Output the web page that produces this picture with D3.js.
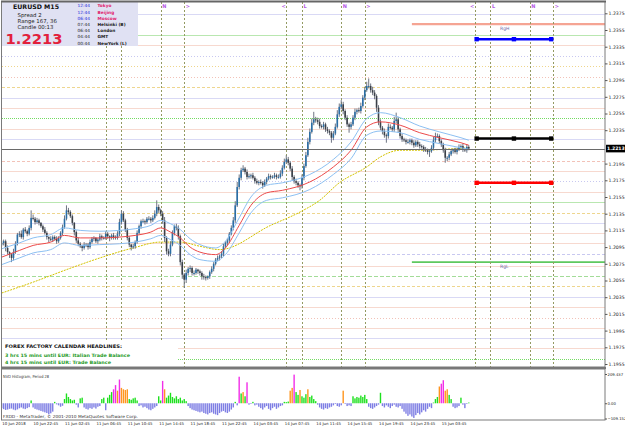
<!DOCTYPE html>
<html>
<head>
<meta charset="utf-8">
<script src="https://cdn.jsdelivr.net/npm/d3@7"></script>
<style>
  body { margin: 0; background: #fff; }
  text { font-family: "DejaVu Sans", sans-serif; }
</style>
</head>
<body>
<div id="chart"></div>
<script>
// ---- data ----
// candle prices are pips above base, open = previous close
const base = 1.2;
const firstOpen = 98;
const closePips = [
  100,102,94,89,86,82,89,99,110,111,107,116,114,111,118,130,129,
  125,127,124,120,116,112,107,105,104,107,105,102,106,112,119,129,
  139,137,132,124,113,103,99,96,94,98,98,95,101,105,106,102,
  104,108,106,106,111,108,106,109,107,106,111,125,135,127,116,106,
  98,95,96,101,112,120,126,126,125,129,129,127,130,135,143,139,
  135,127,106,90,87,98,112,120,118,108,77,62,56,64,69,70,
  64,64,68,66,64,60,59,58,60,65,69,75,80,82,84,87,
  96,100,103,111,118,127,145,167,178,187,189,185,179,180,181,178,
  174,172,173,172,169,173,177,180,179,179,181,179,179,183,190,197,
  200,196,189,179,174,172,169,168,178,192,205,221,233,244,248,247,
  245,240,239,242,236,234,232,226,231,239,254,263,266,258,250,242,
  239,242,250,257,259,258,264,274,283,288,288,283,280,276,262,245,
  238,234,229,228,239,238,236,246,248,236,228,224,223,221,221,223,
  220,217,221,218,216,215,212,211,209,210,214,223,228,228,222,218,
  211,202,202,206,210,211,209,212,215,216,212,211,215,213
];
// wick lengths above / below the body, pips
const upperWick = [
  3,2,2,3,1,2,4,3,2,3,4,2,3,2,3,9,4,
  2,3,2,1,2,3,2,1,3,2,2,3,2,2,3,4,
  6,3,2,2,1,2,3,2,2,3,2,2,3,2,2,1,
  2,3,2,2,3,2,1,2,3,2,3,4,4,3,2,2,
  2,1,3,2,3,2,2,3,2,2,3,2,3,4,8,3,
  2,3,4,2,3,4,3,2,3,3,2,3,2,4,2,3,
  2,3,2,1,2,2,3,2,1,2,3,2,2,3,2,3,
  3,2,3,2,3,4,5,6,4,3,4,2,3,3,2,3,
  2,3,2,3,2,3,2,3,2,2,3,2,3,4,3,4,
  5,3,2,3,2,3,2,2,4,3,4,5,4,5,9,3,
  3,4,2,3,2,3,2,2,3,4,5,4,5,3,2,3,
  2,3,3,4,2,3,4,3,4,5,9,3,4,3,2,3,
  3,2,3,2,4,3,2,5,8,3,2,3,2,2,3,2,
  2,3,2,2,3,2,2,3,2,2,3,4,4,3,2,2,
  2,3,2,3,2,2,3,2,3,2,3,2,3,2
];
const lowerWick = [
  2,3,4,3,4,5,3,2,2,3,2,3,2,3,2,3,2,
  3,2,3,2,3,2,3,4,2,3,2,3,2,2,3,2,
  2,3,2,3,4,3,3,2,4,2,3,3,2,2,3,2,
  3,2,3,2,2,3,4,2,3,2,2,3,3,2,3,3,
  3,4,2,3,2,2,3,2,3,2,2,3,2,2,3,3,
  3,4,5,4,3,3,2,3,3,4,4,5,10,4,3,4,
  3,3,2,3,3,4,3,3,2,3,2,3,2,2,3,2,
  3,2,3,3,2,3,3,2,3,3,2,3,3,2,3,2,
  3,2,3,2,4,2,3,2,3,2,2,3,2,2,3,2,
  2,3,3,4,3,3,3,5,3,3,2,2,3,2,3,3,
  3,3,2,3,3,3,3,6,3,2,2,3,3,4,3,3,
  7,3,2,3,3,2,3,2,3,2,3,3,3,4,5,4,
  3,4,3,8,3,2,3,3,3,4,3,3,2,3,2,3,
  3,3,2,3,3,2,3,2,3,6,2,3,3,2,3,3,
  3,6,4,3,2,3,2,3,2,2,3,2,3,2
];

// moving averages, sampled at bar indices (pips above base)
const maBars  = [0,9,16,25,32,40,50,60,68,76,81,86,91,96,101,109,114,121,127,135,143,157,169,178,186,193,203,213,223,234,238];
const maRed   = [83,91,97,101,109,106,106,107,109,113,118,113,106,95,89,86,94,121,145,160,163,173,191,211,239,245,241,232,226,220,217];
const maBlueU = [93,100,106,110,118,115,114,115,117,121,127,123,116,105,98,94,102,130,155,169,172,182,200,221,249,256,250,240,233,226,223];
const maBlueD = [74,82,88,92,100,97,98,99,101,105,109,104,97,86,80,78,86,112,136,151,154,164,182,201,229,234,232,224,219,214,212];
const slowBars = [0,16,33,50,67,81,91,101,111,137,152,162,172,186,193,203,210,238];
const maSlow   = [40,53,68,82,94,101,101,96,92,121,137,151,172,191,203,211,211,214];

// NVO histogram, one value per bar
const nvo = [
  -35,-42,-48,-45,-40,-38,-45,-50,-44,-36,-30,-38,-42,-35,-28,
  20,
  -30,-40,-45,-50,-55,-60,-65,-70,-80,-72,-60,
  10,
  -8,-15,-25,-18,
  30,70,45,30,20,25,
  -10,-30,
  35,40,
  -30,-40,-45,-35,-40,-30,-38,-25,-20,
  30,40,
  -50,
  40,60,80,
  100,130,90,170,
  110,100,95,100,
  30,25,35,40,20,
  -20,-15,-30,-25,-35,-45,-50,-40,-30,-20,
  50,20,160,100,
  40,55,75,45,35,50,30,40,20,30,15,
  -20,-35,-45,-50,-55,-60,-65,-60,-70,-75,-80,-70,-65,-75,-80,-85,-70,-60,-55,-65,-70,-60,-45,-30,
  10,-15,190,70,80,50,150,
  -10,-5,
  10,
  -15,-10,-25,-35,-45,-30,-20,-40,-50,-35,-25,-40,-30,-20,-15,
  10,8,12,
  90,110,205,80,60,95,50,40,65,100,45,55,30,15,
  -10,-30,-40,-45,-35,-40,-30,-25,-15,
  -5,-20,-25,-15,
  90,
  -5,-20,-15,-20,
  50,35,45,40,55,45,60,30,
  -25,-35,-40,-30,-20,
  -10,
  75,
  -20,-30,-15,-25,-35,-20,-10,-25,-30,-20,
  -40,-60,-75,-90,-80,-95,-105,-85,-70,-80,-65,-50,-60,
  -40,-25,-35,
  5,30,45,120,140,165,90,100,60,30,
  -25,-35,-30,-20,
  40,-10,-35,-5,5
];
const nvoMagenta = [57,58,60,82,121,125,149,224,225];
const nvoOrange  = [59,61,62,63,64,83,123,147,148,152,156,174,223,226,227];
const nvoTicks = [209.437, 0, -109.152];

// price axis and time axis
const priceTicks = d3.range(0, 22).map(k => +(1.1955 + k * 0.002).toFixed(4));
const timeBars = [0,16,32,48,64,80,96,112,128,144,160,176,192,208,224];
const timeLabels = ["10 Jun 2018","10 Jun 22:45","11 Jun 02:45","11 Jun 06:45","11 Jun 10:45",
  "11 Jun 14:45","11 Jun 18:45","11 Jun 22:45","14 Jun 03:45","14 Jun 07:45","14 Jun 11:45",
  "14 Jun 15:45","14 Jun 19:45","14 Jun 23:45","15 Jun 03:45"];
const lastPrice = 1.2213;

// horizontal pivot levels
const levelPrices = [1.2374,1.2349,1.2337,1.2324,1.2312,1.2299,1.2287,1.2274,1.2262,1.2250,1.2236,1.2224,
  1.2198,1.2186,1.2174,1.2161,1.2149,1.2136,1.2124,1.2112,1.2100,1.2087,1.2072,1.2060,1.2048,1.2035,
  1.2023,1.2010,1.1998,1.1986,1.1974,1.1961];
const levelKinds = ["lav","green","pink","lavDot","yelDot","pinkDot","yelDash","lav","pink","greenDot","pink","lav",
  "pinkDash","pink","lavDot","pink","green","yelDash","lav","pink","pink","lavDash","pink","greenDash","yelDash","lav",
  "pink","pinkDot","pink","lav","pink","greenDot"];

// session markers
const sessionBars = [53,61,81,93,145,153,173,185,241,249,269,281];
const sessionNames = ["<","L","N",">","<","L","N",">","<","L","N",">"];

// range high / low and target levels
const rangeStartBar = 209;
const rangeHigh = 1.2362, rangeLow = 1.2077;
const targetBars = [242, 261, 280];
const targetPrices = [1.2344, 1.2225, 1.2172];
const targetColors = ["#0000ff", "#000000", "#ff0000"];

// info panel
const infoLines = ["Spread  2", "Range  167, 36", "Candle  00:13"];
const clockTimes = ["12:44","12:44","06:44","07:44","06:44","04:44","00:44"];
const clockCities = ["Tokyo","Beijing","Moscow","Helsinki (B)","London","GMT","NewYork (L)"];
const headlines = ["3 hrs 15 mins until EUR: Italian Trade Balance", "4 hrs 15 mins until EUR: Trade Balance"];

// ---- layout ----
const W = 625, H = 429;
const R = 605;            // right edge of plot
const mainTop = 2, mainBot = 367, subTop = 369, subBot = 420;
const infoRight = 138;

const svg = d3.select("#chart").append("svg")
  .attr("width", W).attr("height", H)
  .style("display", "block");
svg.append("rect").attr("width", W).attr("height", H).attr("fill", "#fff");

const x = d3.scaleLinear().domain([0, 307.4]).range([1.7, R]);
const y = d3.scaleLinear().domain([1.1955, 1.2375]).range([364, 13.3]);
const hy = d3.scaleLinear().domain([-109.152, 209.437]).range([418.5, 374]);
const p = v => base + v / 10000;

const styles = {
  lav: ["#d9d9f5", null], lavDot: ["#c8c8f0", "1,2"], lavDash: ["#c8c8f0", "3,2"],
  pink: ["#f7d9cf", null], pinkDot: ["#f2c2b8", "1,2"], pinkDash: ["#f2c2b8", "3,2"],
  green: ["#b9e7b0", null], greenDot: ["#74dc62", "1,1"], greenDash: ["#a3dc98", "4,2"],
  yelDot: ["#efd68c", "1,2"], yelDash: ["#eed68e", "3,2"]
};

const main = svg.append("g");
main.append("clipPath").attr("id", "clipMain")
  .append("rect").attr("x", 2).attr("y", mainTop).attr("width", R - 2).attr("height", mainBot - mainTop);
const plot = main.append("g").attr("clip-path", "url(#clipMain)");

// pivot levels
plot.append("g").selectAll("line").data(levelPrices).join("line")
  .attr("x1", 2).attr("x2", R)
  .attr("y1", d => Math.round(y(d)) + 0.5).attr("y2", d => Math.round(y(d)) + 0.5)
  .attr("stroke", (d, i) => styles[levelKinds[i]][0])
  .attr("stroke-dasharray", (d, i) => styles[levelKinds[i]][1]);

// range high / low
plot.append("line").attr("x1", x(rangeStartBar)).attr("x2", R)
  .attr("y1", y(rangeHigh)).attr("y2", y(rangeHigh))
  .attr("stroke", "#f5a493").attr("stroke-width", 2.2);
plot.append("line").attr("x1", x(rangeStartBar)).attr("x2", R)
  .attr("y1", y(rangeLow)).attr("y2", y(rangeLow))
  .attr("stroke", "#5ec85e").attr("stroke-width", 1.6);
plot.append("text").attr("x", 500).attr("y", y(rangeHigh) + 5.5).text("RgH")
  .attr("font-size", 4.5).attr("fill", "#6a6aa8");
plot.append("text").attr("x", 500).attr("y", y(rangeLow) + 5.5).text("RgL")
  .attr("font-size", 4.5).attr("fill", "#6a6aa8");

// session lines (labels under the info panel are hidden by it)
plot.append("g").selectAll("line").data(sessionBars).join("line")
  .attr("x1", d => Math.round(x(d)) + 0.5).attr("x2", d => Math.round(x(d)) + 0.5)
  .attr("y1", mainTop).attr("y2", mainBot)
  .attr("stroke", "#939a62").attr("stroke-dasharray", "2,2");
const visibleSessions = sessionBars.map((b, i) => ({ b, name: sessionNames[i] }))
  .filter(s => x(s.b) > infoRight + 3);
plot.append("g").selectAll("text").data(visibleSessions).join("text")
  .attr("x", d => d.name === "<" ? x(d.b) - 0.5 : x(d.b) + 1.5)
  .attr("y", 8)
  .attr("text-anchor", d => d.name === "<" ? "end" : "start")
  .attr("font-size", 5).attr("font-weight", "bold").attr("fill", "#b45ae6")
  .text(d => d.name);

// slow MA (yellow dashed)
plot.append("path")
  .datum(slowBars.map((b, i) => [b, maSlow[i]]))
  .attr("fill", "none").attr("stroke", "#d4c400").attr("stroke-width", 1)
  .attr("stroke-dasharray", "2,1")
  .attr("d", d3.line().x(d => x(d[0])).y(d => y(p(d[1]))).curve(d3.curveMonotoneX));

// candles
const candles = closePips.map((c, i) => {
  const o = i ? closePips[i - 1] : firstOpen;
  return { i, o, c, h: Math.max(o, c) + upperWick[i], l: Math.min(o, c) - lowerWick[i] };
});
const cg = plot.append("g");
cg.selectAll("line").data(candles).join("line")
  .attr("x1", d => x(d.i)).attr("x2", d => x(d.i))
  .attr("y1", d => y(p(d.h))).attr("y2", d => y(p(d.l)))
  .attr("stroke", "#6e7482").attr("stroke-width", 1);
cg.selectAll("rect").data(candles).join("rect")
  .attr("x", d => x(d.i) - 0.8).attr("width", 1.6)
  .attr("y", d => y(p(Math.max(d.o, d.c))))
  .attr("height", d => Math.max(1, Math.abs(y(p(d.o)) - y(p(d.c)))))
  .attr("fill", d => d.c >= d.o ? "#2a6ea6" : "#3b4048");

// ribbon
const ribbon = (vals, color) => plot.append("path")
  .datum(maBars.map((b, i) => [b, vals[i]]))
  .attr("fill", "none").attr("stroke", color).attr("stroke-width", 1)
  .attr("d", d3.line().x(d => x(d[0])).y(d => y(p(d[1]))).curve(d3.curveMonotoneX));
ribbon(maBlueU, "#8cc0f2");
ribbon(maBlueD, "#8cc0f2");
ribbon(maRed, "#ec4a4a");

// current price line
plot.append("line").attr("x1", 2).attr("x2", R)
  .attr("y1", Math.round(y(lastPrice)) + 0.5).attr("y2", Math.round(y(lastPrice)) + 0.5)
  .attr("stroke", "#6a6a6a");

// target lines
targetPrices.forEach((tp, k) => {
  plot.append("line").attr("x1", x(targetBars[0])).attr("x2", x(targetBars[2]))
    .attr("y1", y(tp)).attr("y2", y(tp))
    .attr("stroke", targetColors[k]).attr("stroke-width", 2.6);
  plot.append("g").selectAll("rect").data(targetBars).join("rect")
    .attr("x", d => x(d) - 2.2).attr("y", y(tp) - 2.2)
    .attr("width", 4.4).attr("height", 4.4).attr("fill", targetColors[k]);
});

// headline panel
plot.append("rect").attr("x", 2).attr("y", 340).attr("width", 176).attr("height", 27).attr("fill", "#fff");
plot.append("text").attr("x", 5).attr("y", 348.3).text("FOREX FACTORY CALENDAR  HEADLINES:")
  .attr("font-size", 4.8).attr("font-weight", "bold").attr("fill", "#111")
  .attr("textLength", 117).attr("lengthAdjust", "spacingAndGlyphs");
plot.append("g").selectAll("text").data(headlines).join("text")
  .attr("x", 5).attr("y", (d, i) => 356.6 + i * 7.6)
  .attr("font-size", 4.6).attr("font-weight", "bold").attr("fill", "#1f9a1f")
  .attr("textLength", (d, i) => i ? 106 : 125).attr("lengthAdjust", "spacingAndGlyphs")
  .text(d => d);

// info panel
const info = main.append("g");
info.append("rect").attr("x", 2).attr("y", 2).attr("width", infoRight - 2).attr("height", 44).attr("fill", "#e0e1f3");
info.append("text").attr("x", 13).attr("y", 9.3).text("EURUSD   M15")
  .attr("font-size", 6.3).attr("font-weight", "bold").attr("fill", "#111")
  .attr("textLength", 46).attr("lengthAdjust", "spacingAndGlyphs");
info.append("g").selectAll("text").data(infoLines).join("text")
  .attr("x", 17.5).attr("y", (d, i) => 16.8 + i * 6.3)
  .attr("font-size", 5.4).attr("fill", "#222").text(d => d);
info.append("text").attr("x", 5.5).attr("y", 44.3).text(d3.format(".4f")(lastPrice))
  .attr("font-size", 14).attr("font-weight", "bold").attr("fill", "#e2203c")
  .attr("textLength", 57).attr("lengthAdjust", "spacingAndGlyphs");
info.append("g").selectAll("text").data(clockTimes).join("text")
  .attr("x", 77.5).attr("y", (d, i) => 7.3 + i * 6.2)
  .attr("font-size", 4.3).attr("fill", (d, i) => i < 3 ? "#2424d8" : "#222").text(d => d);
info.append("g").selectAll("text").data(clockCities).join("text")
  .attr("x", 97.5).attr("y", (d, i) => 7.3 + i * 6.2)
  .attr("font-size", 4.3).attr("font-weight", "bold")
  .attr("fill", (d, i) => i < 3 ? "#e0206c" : "#222").text(d => d);

// frames
main.append("rect").attr("x", 1.5).attr("y", 1.5).attr("width", R - 1.5).attr("height", mainBot - 1.5)
  .attr("fill", "none").attr("stroke", "#7a7a7a");
main.append("line").attr("x1", 1).attr("x2", R + 1).attr("y1", 1.5).attr("y2", 1.5)
  .attr("stroke", "#666").attr("stroke-width", 2);

// price axis
const yAxis = main.append("g").attr("transform", `translate(${R},0)`)
  .call(d3.axisRight(y)
    .tickValues(priceTicks.filter(t => Math.abs(y(t) - y(lastPrice)) > 5))
    .tickFormat(d3.format(".4f")).tickSize(2.5).tickPadding(1));
yAxis.select(".domain").remove();
yAxis.selectAll("line").attr("stroke", "#555");
yAxis.selectAll("text").attr("font-size", 4.6).attr("fill", "#222")
  .attr("font-family", "DejaVu Sans");
main.append("rect").attr("x", R + 1).attr("y", y(lastPrice) - 3.8)
  .attr("width", 19).attr("height", 7.6).attr("fill", "#000");
main.append("text").attr("x", R + 2).attr("y", y(lastPrice) + 1.8)
  .text(d3.format(".4f")(lastPrice))
  .attr("font-size", 4.6).attr("font-weight", "bold").attr("fill", "#fff");

// ---- NVO subwindow ----
const sub = svg.append("g");
sub.append("line").attr("x1", 1).attr("x2", R + 1).attr("y1", 368).attr("y2", 368)
  .attr("stroke", "#777").attr("stroke-width", 2);
const nvoColor = (v, i) => v < 0 ? "#7e7ee4"
  : nvoMagenta.includes(i) ? "#f22ee8"
  : nvoOrange.includes(i) ? "#ff951e" : "#1ee01e";
sub.append("g").selectAll("rect").data(nvo).join("rect")
  .attr("x", (d, i) => x(i) - 0.7).attr("width", 1.4)
  .attr("y", d => Math.min(hy(d), hy(0)))
  .attr("height", d => Math.abs(hy(d) - hy(0)))
  .attr("fill", nvoColor);
sub.append("rect").attr("x", 1.5).attr("y", subTop).attr("width", R - 1.5).attr("height", subBot - subTop)
  .attr("fill", "none").attr("stroke", "#7a7a7a");
sub.append("text").attr("x", 3).attr("y", 378).text("NVO Histogram, Period 28")
  .attr("font-size", 4.2).attr("fill", "#333")
  .attr("textLength", 46).attr("lengthAdjust", "spacingAndGlyphs");
sub.append("text").attr("x", 3).attr("y", 418.3).text("FXDD - MetaTrader, \u00a9 2001-2010 MetaQuotes Software Corp.")
  .attr("font-size", 4.2).attr("fill", "#333")
  .attr("textLength", 135).attr("lengthAdjust", "spacingAndGlyphs");
const hAxis = sub.append("g").attr("transform", `translate(${R},0)`)
  .call(d3.axisRight(hy).tickValues(nvoTicks)
    .tickFormat(d => d === 0 ? "0.00" : d3.format(".3f")(d)).tickSize(2).tickPadding(0.5));
hAxis.select(".domain").remove();
hAxis.selectAll("line").attr("stroke", "#555");
hAxis.selectAll("text").attr("font-size", 3.8).attr("fill", "#222").attr("font-family", "DejaVu Sans");

// time axis
const xAxis = svg.append("g").attr("transform", `translate(0,${subBot})`)
  .call(d3.axisBottom(x).tickValues(timeBars)
    .tickFormat((d, i) => timeLabels[i]).tickSize(0).tickPadding(2.5));
xAxis.select(".domain").remove();
xAxis.selectAll("text").attr("text-anchor", "start").attr("font-size", 3.9)
  .attr("fill", "#222").attr("font-family", "DejaVu Sans");
</script>
</body>
</html>
